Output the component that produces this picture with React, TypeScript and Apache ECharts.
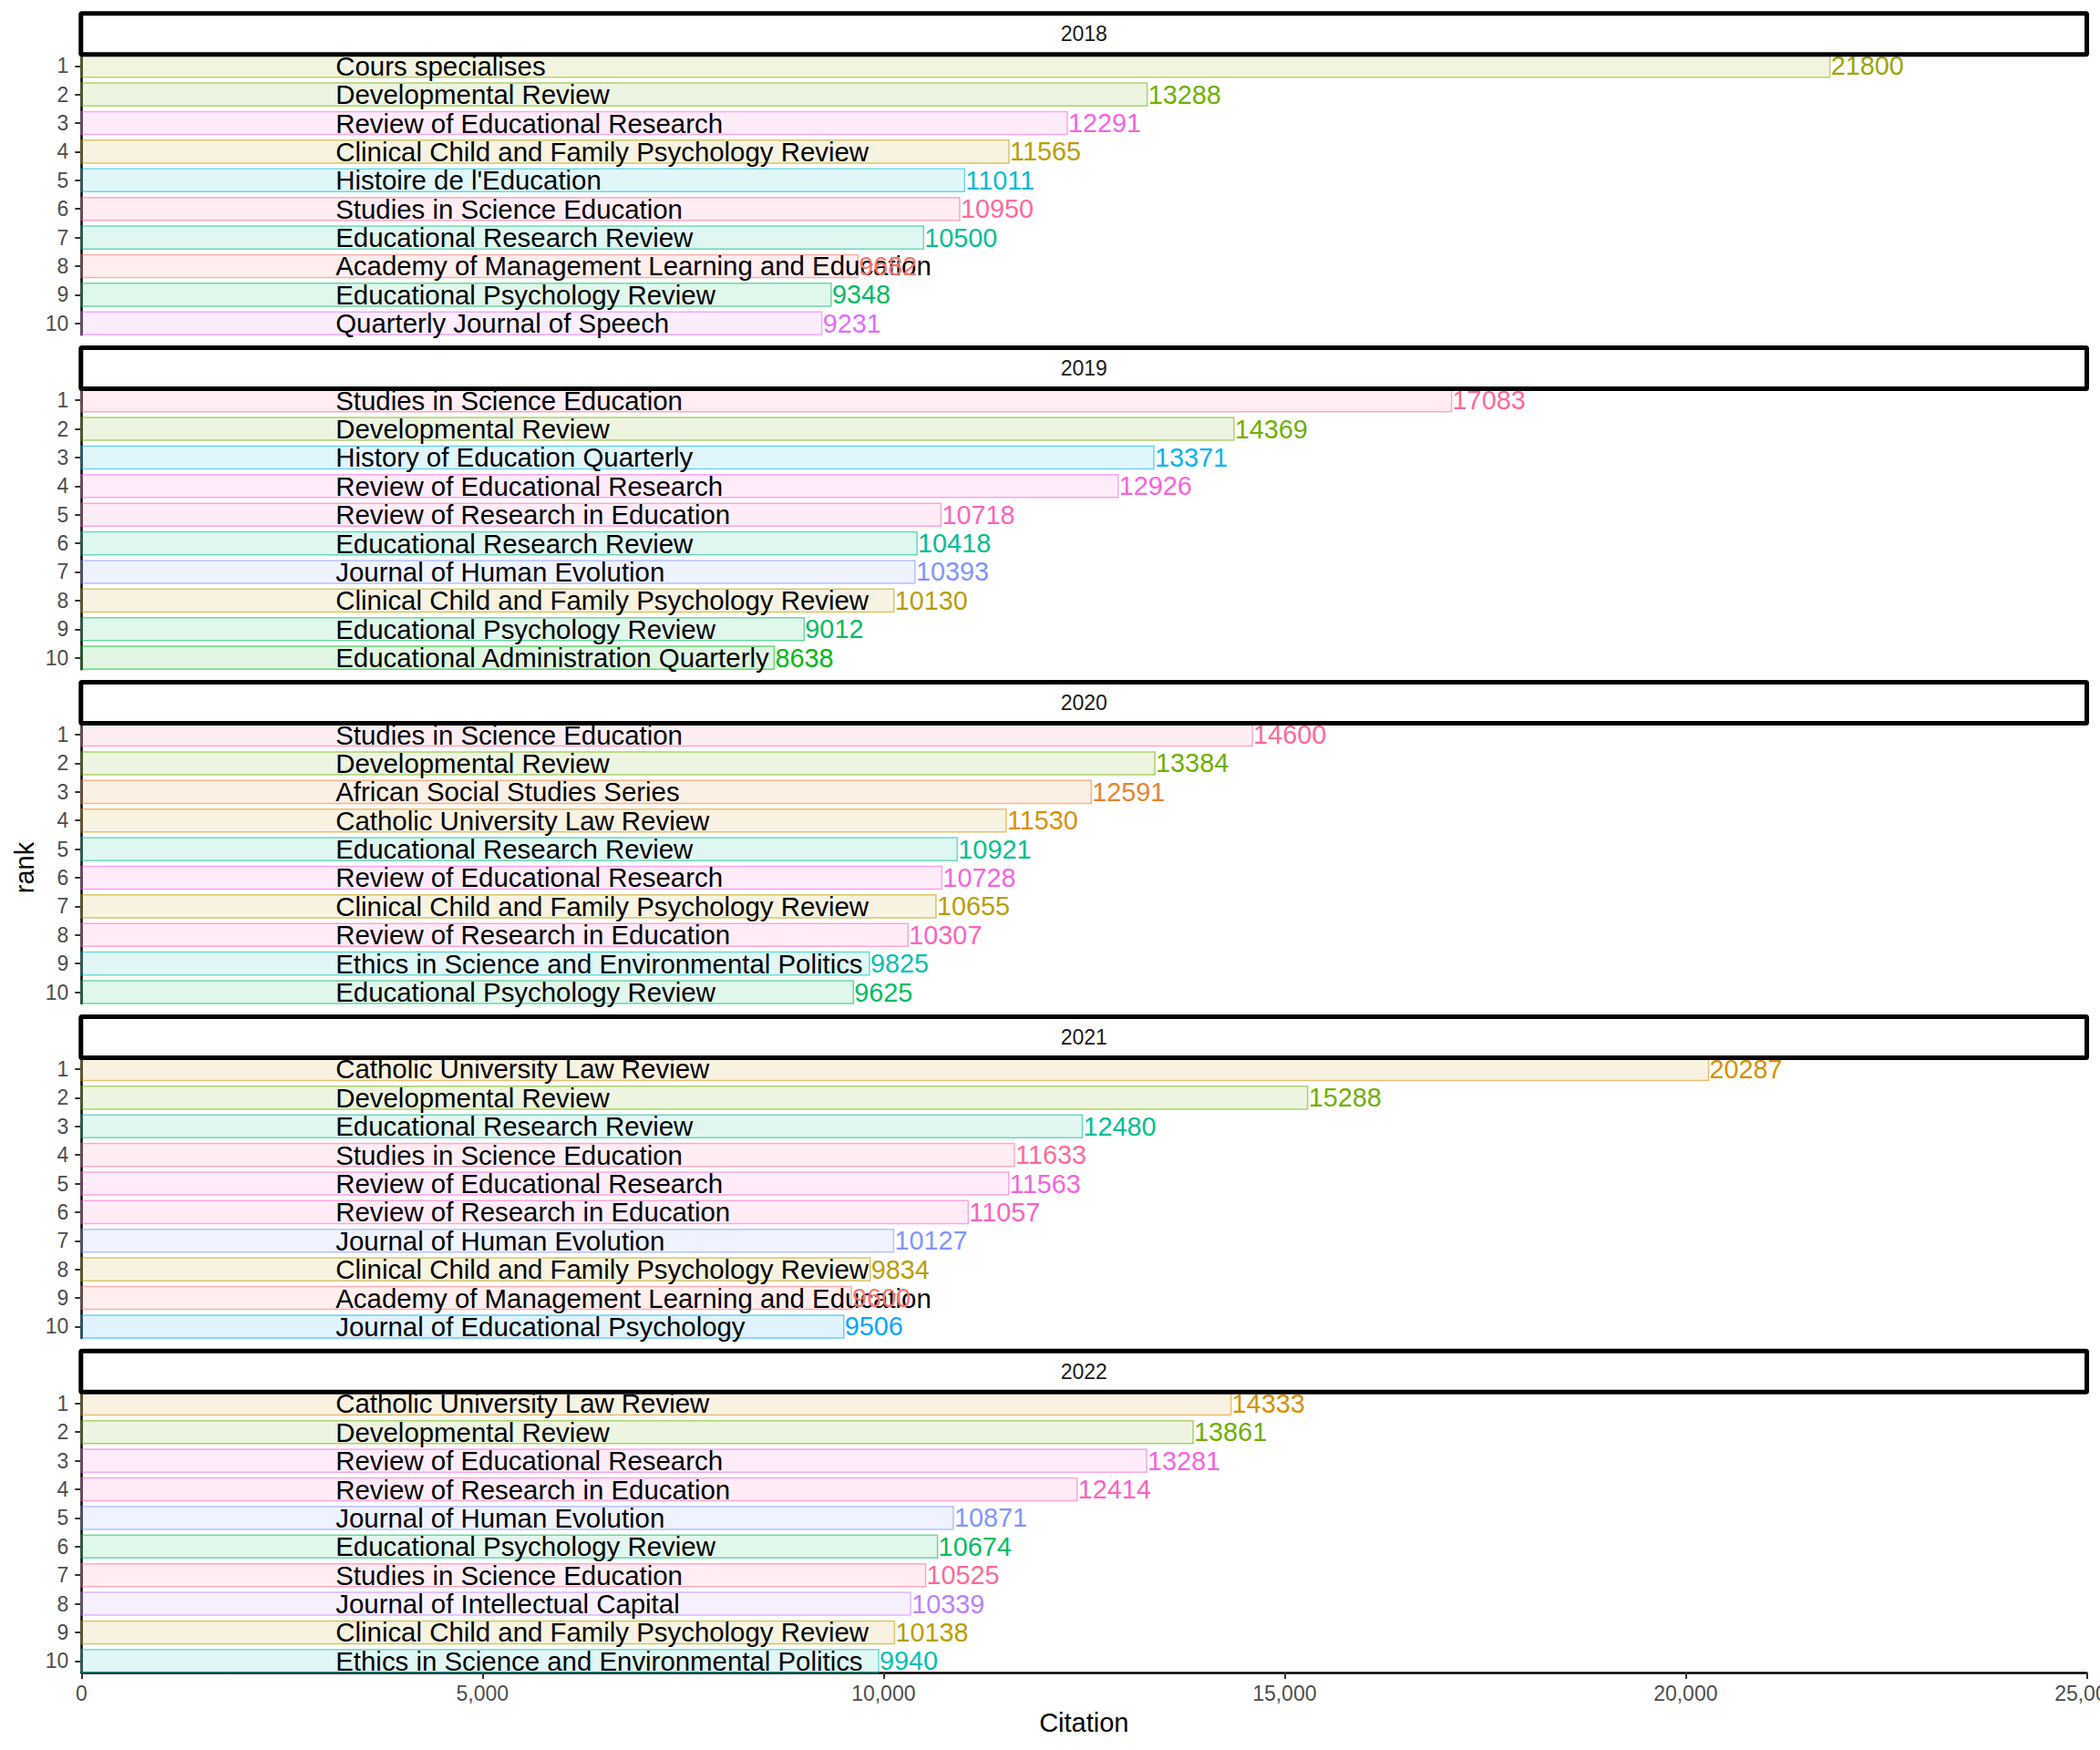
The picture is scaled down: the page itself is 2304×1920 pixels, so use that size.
import React, { useEffect, useRef } from 'react';
import * as echarts from 'echarts';

const years = ['2018', '2019', '2020', '2021', '2022'];
const ranks = [1, 2, 3, 4, 5, 6, 7, 8, 9, 10];
const xTicks = [0, 5000, 10000, 15000, 20000, 25000];

const journals2018 = [
  'Cours specialises',
  'Developmental Review',
  'Review of Educational Research',
  'Clinical Child and Family Psychology Review',
  "Histoire de l'Education",
  'Studies in Science Education',
  'Educational Research Review',
  'Academy of Management Learning and Education',
  'Educational Psychology Review',
  'Quarterly Journal of Speech',
];
const citations2018 = [21800, 13288, 12291, 11565, 11011, 10950, 10500, 9682, 9348, 9231];

const journals2019 = [
  'Studies in Science Education',
  'Developmental Review',
  'History of Education Quarterly',
  'Review of Educational Research',
  'Review of Research in Education',
  'Educational Research Review',
  'Journal of Human Evolution',
  'Clinical Child and Family Psychology Review',
  'Educational Psychology Review',
  'Educational Administration Quarterly',
];
const citations2019 = [17083, 14369, 13371, 12926, 10718, 10418, 10393, 10130, 9012, 8638];

const journals2020 = [
  'Studies in Science Education',
  'Developmental Review',
  'African Social Studies Series',
  'Catholic University Law Review',
  'Educational Research Review',
  'Review of Educational Research',
  'Clinical Child and Family Psychology Review',
  'Review of Research in Education',
  'Ethics in Science and Environmental Politics',
  'Educational Psychology Review',
];
const citations2020 = [14600, 13384, 12591, 11530, 10921, 10728, 10655, 10307, 9825, 9625];

const journals2021 = [
  'Catholic University Law Review',
  'Developmental Review',
  'Educational Research Review',
  'Studies in Science Education',
  'Review of Educational Research',
  'Review of Research in Education',
  'Journal of Human Evolution',
  'Clinical Child and Family Psychology Review',
  'Academy of Management Learning and Education',
  'Journal of Educational Psychology',
];
const citations2021 = [20287, 15288, 12480, 11633, 11563, 11057, 10127, 9834, 9600, 9506];

const journals2022 = [
  'Catholic University Law Review',
  'Developmental Review',
  'Review of Educational Research',
  'Review of Research in Education',
  'Journal of Human Evolution',
  'Educational Psychology Review',
  'Studies in Science Education',
  'Journal of Intellectual Capital',
  'Clinical Child and Family Psychology Review',
  'Ethics in Science and Environmental Politics',
];
const citations2022 = [14333, 13861, 13281, 12414, 10871, 10674, 10525, 10339, 10138, 9940];

const journalsByYear = [journals2018, journals2019, journals2020, journals2021, journals2022];
const citationsByYear = [citations2018, citations2019, citations2020, citations2021, citations2022];

// ---------- styling helpers ----------
const FONT = "'Liberation Sans', Arial, Helvetica, sans-serif";
const NAME_X = 3170; // x (in Citation units) where journal names start

function hcl(h: number, c: number, l: number): [number, number, number] {
  const hr = (h * Math.PI) / 180;
  const u = c * Math.cos(hr);
  const v = c * Math.sin(hr);
  const Xn = 95.047, Yn = 100, Zn = 108.883;
  const d = Xn + 15 * Yn + 3 * Zn;
  const un = (4 * Xn) / d, vn = (9 * Yn) / d;
  const Y = l > 8 ? Yn * Math.pow((l + 16) / 116, 3) : (Yn * l) / 903.3;
  const up = u / (13 * l) + un;
  const vp = v / (13 * l) + vn;
  const X = (Y * 9 * up) / (4 * vp);
  const Z = (Y * (12 - 3 * up - 20 * vp)) / (4 * vp);
  const x = X / 100, y = Y / 100, z = Z / 100;
  const lin = [
    3.2404542 * x - 1.5371385 * y - 0.4985314 * z,
    -0.969266 * x + 1.8760108 * y + 0.041556 * z,
    0.0556434 * x - 0.2040259 * y + 1.0572252 * z,
  ];
  const g = lin.map((t) => {
    const s = t <= 0.0031308 ? 12.92 * t : 1.055 * Math.pow(t, 1 / 2.4) - 0.055;
    return Math.round(Math.max(0, Math.min(1, s)) * 255);
  });
  return [g[0], g[1], g[2]];
}

const allJournals = Array.from(new Set(journalsByYear.flat())).sort();
const colorMap: Record<string, [number, number, number]> = {};
allJournals.forEach((j, i) => {
  colorMap[j] = hcl(15 + (i * 360) / allJournals.length, 100, 65);
});
const rgba = (c: [number, number, number], a: number) => `rgba(${c[0]},${c[1]},${c[2]},${a})`;

// ---------- layout ----------
const GRID_LEFT = 89.3;
const GRID_WIDTH = 2200;
const PANEL_TOP0 = 59.7;
const PERIOD = 366.9;
const PANEL_H = 307.6;
const STRIP_H = 45;

export default function App() {
  const ref = useRef<HTMLDivElement>(null);

  useEffect(() => {
    if (!ref.current) return;
    const chart = echarts.init(ref.current, undefined, { renderer: 'svg' });

    const grids: any[] = [];
    const xAxes: any[] = [];
    const yAxes: any[] = [];
    const series: any[] = [];
    const graphics: any[] = [];
    const n = years.length;

    years.forEach((yr, i) => {
      const top = PANEL_TOP0 + i * PERIOD;
      const last = i === n - 1;
      grids.push({
        left: GRID_LEFT,
        top,
        width: GRID_WIDTH,
        height: PANEL_H,
        containLabel: false,
        outerBoundsMode: 'none',
      });
      xAxes.push({
        type: 'value',
        gridIndex: i,
        min: xTicks[0],
        max: xTicks[xTicks.length - 1],
        interval: 5000,
        show: true,
        axisLine: { show: last, lineStyle: { color: '#000', width: 2.5 } },
        axisTick: { show: last, length: 7, lineStyle: { color: '#333', width: 2 } },
        axisLabel: {
          show: last,
          color: '#4D4D4D',
          fontSize: 23,
          fontFamily: FONT,
          margin: 12,
          formatter: (v: number) => v.toLocaleString('en-US'),
        },
        splitLine: { show: false },
      });
      yAxes.push({
        type: 'value',
        gridIndex: i,
        inverse: true,
        min: 0.6,
        max: 10.4,
        axisLine: { show: true, onZero: false, lineStyle: { color: '#000', width: 2.5 } },
        axisTick: { show: true, length: 7, customValues: ranks, lineStyle: { color: '#333', width: 2 } },
        axisLabel: {
          show: true,
          customValues: ranks,
          color: '#4D4D4D',
          fontSize: 23,
          fontFamily: FONT,
          margin: 14,
        },
        splitLine: { show: false },
      });

      const names = journalsByYear[i];
      series.push({
        type: 'custom',
        xAxisIndex: i,
        yAxisIndex: i,
        clip: false,
        data: citationsByYear[i].map((c, k) => [c, ranks[k]]),
        renderItem: (params: any, api: any) => {
          const k = params.dataIndex;
          const v = api.value(0);
          const r = api.value(1);
          const p0 = api.coord([0, r]);
          const p1 = api.coord([v, r]);
          const h = api.size([0, 0.8])[1];
          const name = names[k];
          const col = colorMap[name];
          const pn = api.coord([NAME_X, r]);
          return {
            type: 'group',
            children: [
              {
                type: 'rect',
                shape: { x: p0[0], y: p0[1] - h / 2, width: p1[0] - p0[0], height: h },
                style: { fill: rgba(col, 0.12), stroke: rgba(col, 0.55), lineWidth: 1.5 },
              },
              {
                type: 'text',
                x: pn[0],
                y: pn[1],
                style: {
                  text: name,
                  fill: '#000',
                  fontSize: 29.4,
                  fontFamily: FONT,
                  align: 'left',
                  verticalAlign: 'middle',
                },
              },
              {
                type: 'text',
                x: p1[0] + 1,
                y: p1[1],
                style: {
                  text: String(v),
                  fill: rgba(col, 1),
                  fontSize: 28.8,
                  fontFamily: FONT,
                  align: 'left',
                  verticalAlign: 'middle',
                },
              },
            ],
          };
        },
      });

      const sTop = 14.7 + i * PERIOD;
      graphics.push({
        type: 'rect',
        z: 100,
        shape: { x: 88.8, y: sTop, width: 2200.7, height: STRIP_H, r: 1 },
        style: { fill: '#fff', stroke: '#000', lineWidth: 5 },
      });
      graphics.push({
        type: 'text',
        z: 101,
        x: GRID_LEFT + GRID_WIDTH / 2,
        y: sTop + STRIP_H / 2,
        style: {
          text: yr,
          fill: '#1A1A1A',
          fontSize: 23,
          fontFamily: FONT,
          align: 'center',
          verticalAlign: 'middle',
        },
      });
    });

    graphics.push({
      type: 'text',
      z: 101,
      x: GRID_LEFT + GRID_WIDTH / 2,
      y: 1890,
      style: { text: 'Citation', fill: '#000', fontSize: 29, fontFamily: FONT, align: 'center', verticalAlign: 'middle' },
    });
    graphics.push({
      type: 'text',
      z: 101,
      x: 26.5,
      y: 952,
      rotation: Math.PI / 2,
      style: { text: 'rank', fill: '#000', fontSize: 29, fontFamily: FONT, align: 'center', verticalAlign: 'middle' },
    });

    chart.setOption({
      animation: false,
      backgroundColor: '#fff',
      grid: grids,
      xAxis: xAxes,
      yAxis: yAxes,
      series,
      graphic: graphics,
    });

    return () => chart.dispose();
  }, []);

  return (
    <div
      ref={ref}
      style={{ position: 'fixed', left: 0, top: 0, width: 2304, height: 1920, background: '#fff' }}
    />
  );
}
